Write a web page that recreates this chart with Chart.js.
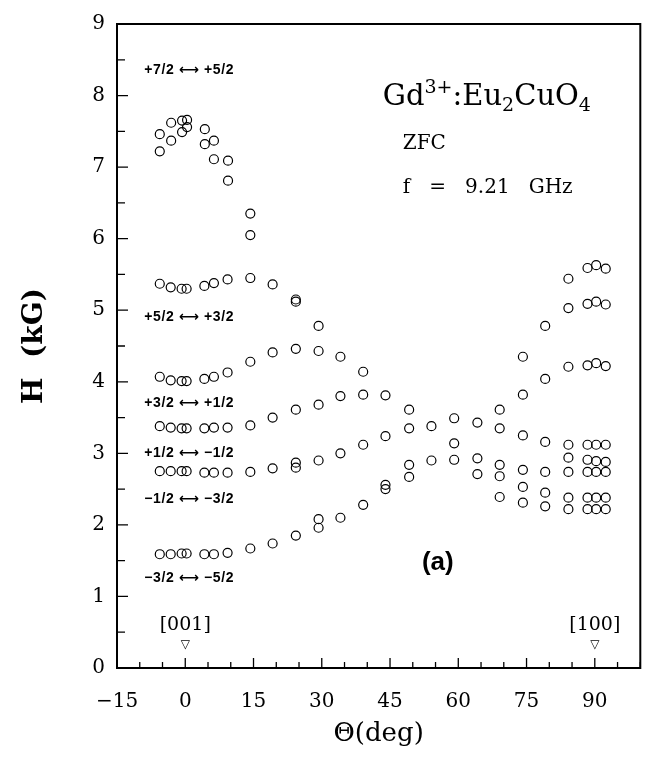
<!DOCTYPE html>
<html>
<head>
<meta charset="utf-8">
<script src="https://cdn.jsdelivr.net/npm/chart.js@4.4.1/dist/chart.umd.min.js"></script>
<style>
  html, body { margin: 0; padding: 0; background: #fff; }
  #wrap { width: 646px; height: 768px; }
</style>
</head>
<body>
<div id="wrap"><canvas id="eprChart" width="646" height="768"></canvas></div>
<script>
// angles (deg) and resonance fields (kG), one pair of arrays per transition
const ang72 = [-5.6, -5.6, -3.1, -3.1, -0.7, -0.7, 0.4, 0.4, 4.3, 4.3, 6.3, 6.3, 9.4, 9.4, 14.3, 14.3, 24.3, 24.3, 29.3, 79.1, 84.2, 88.4, 90.3, 92.4];
const h72   = [7.46, 7.22, 7.62, 7.37, 7.65, 7.49, 7.66, 7.56, 7.53, 7.32, 7.37, 7.11, 7.09, 6.81, 6.35, 6.05, 5.15, 5.12, 4.78, 4.78, 5.44, 5.59, 5.63, 5.58];

const ang52 = [-5.6, -3.2, -0.8, 0.3, 4.2, 6.3, 9.3, 14.3, 19.2, 29.3, 34.1, 39.1, 44.0, 49.2, 54.1, 59.1, 64.2, 69.1, 74.2, 79.1, 84.2, 88.4, 90.3, 92.4];
const h52   = [5.37, 5.32, 5.30, 5.30, 5.34, 5.38, 5.43, 5.45, 5.36, 4.43, 4.35, 4.14, 3.81, 3.61, 3.38, 3.49, 3.43, 3.61, 4.35, 4.04, 5.03, 5.09, 5.12, 5.08];

const ang32 = [-5.6, -3.2, -0.8, 0.3, 4.2, 6.3, 9.3, 14.3, 19.2, 24.3, 29.3, 34.1, 39.1, 44.0, 49.2, 59.1, 64.2, 69.1, 74.2, 84.2, 88.4, 90.3, 92.4];
const h32   = [4.07, 4.02, 4.01, 4.01, 4.04, 4.07, 4.13, 4.28, 4.41, 4.46, 3.68, 3.80, 3.82, 3.24, 3.35, 3.14, 2.93, 3.35, 3.82, 4.21, 4.23, 4.26, 4.22];

const ang12 = [-5.6, -3.2, -0.8, 0.3, 4.2, 6.3, 9.3, 14.3, 19.2, 24.3, 29.3, 34.1, 39.1, 44.0, 49.2, 54.1, 59.1, 64.2, 69.1, 74.2, 79.1, 84.2, 88.4, 90.3, 92.4];
const h12   = [3.38, 3.36, 3.35, 3.35, 3.35, 3.36, 3.36, 3.39, 3.50, 3.61, 2.90, 3.00, 3.12, 2.56, 2.84, 2.90, 2.91, 2.71, 2.84, 3.25, 3.16, 3.12, 3.12, 3.12, 3.12];

const angM12 = [-5.6, -3.2, -0.8, 0.3, 4.2, 6.3, 9.3, 14.3, 19.2, 24.3, 24.3, 29.3, 34.1, 39.1, 44.0, 49.2, 69.1, 74.2, 79.1, 84.2, 84.2, 88.4, 88.4, 90.3, 90.3, 92.4, 92.4];
const hM12   = [2.75, 2.75, 2.75, 2.75, 2.73, 2.73, 2.73, 2.74, 2.79, 2.87, 2.80, 2.08, 2.10, 2.28, 2.50, 2.67, 2.68, 2.77, 2.74, 2.94, 2.74, 2.91, 2.74, 2.89, 2.74, 2.88, 2.74];

const angM32 = [-5.6, -3.2, -0.8, 0.3, 4.2, 6.3, 9.3, 14.3, 19.2, 24.3, 29.3, 69.1, 74.2, 74.2, 79.1, 79.1, 84.2, 84.2, 88.4, 88.4, 90.3, 90.3, 92.4, 92.4];
const hM32   = [1.59, 1.59, 1.60, 1.60, 1.59, 1.59, 1.61, 1.67, 1.74, 1.85, 1.96, 2.39, 2.53, 2.31, 2.45, 2.26, 2.38, 2.22, 2.38, 2.22, 2.38, 2.22, 2.38, 2.22];

const transitionLabels = ['+7/2 \u27F7 +5/2', '+5/2 \u27F7 +3/2', '+3/2 \u27F7 +1/2', '+1/2 \u27F7 \u22121/2', '\u22121/2 \u27F7 \u22123/2', '\u22123/2 \u27F7 \u22125/2'];
const transitionLabelH = [8.35, 4.90, 3.70, 3.00, 2.36, 1.25];

const xTicks = [-15, 0, 15, 30, 45, 60, 75, 90];
const yTicks = [0, 1, 2, 3, 4, 5, 6, 7, 8, 9];

const serif = "'DejaVu Serif', 'Liberation Serif', serif";

function branch(label, xs, ys) {
  return {
    label: label,
    data: xs.map((x, i) => ({ x: x, y: ys[i] })),
    pointStyle: 'circle',
    pointRadius: 4.5,
    pointBorderWidth: 1.2,
    borderColor: '#000',
    backgroundColor: 'rgba(0,0,0,0)',
    showLine: false
  };
}

// frame, inward ticks and text annotations
const decorations = {
  id: 'decorations',
  afterDraw(chart) {
    const { ctx, chartArea: a, scales: { x, y } } = chart;
    ctx.save();
    ctx.strokeStyle = '#000';
    ctx.lineWidth = 2;
    ctx.strokeRect(a.left, a.top, a.right - a.left, a.bottom - a.top);

    ctx.lineWidth = 1.3;
    ctx.beginPath();
    for (let v = -15; v <= 100; v += 5) {
      const px = x.getPixelForValue(v);
      const len = v % 15 === 0 ? 10 : 6;
      ctx.moveTo(px, a.bottom);
      ctx.lineTo(px, a.bottom - len);
    }
    for (let v = 0; v <= 9; v += 0.5) {
      const py = y.getPixelForValue(v);
      const len = Number.isInteger(v) ? 11 : 8;
      ctx.moveTo(a.left, py);
      ctx.lineTo(a.left + len, py);
    }
    ctx.stroke();

    ctx.fillStyle = '#000';
    ctx.textBaseline = 'middle';
    ctx.textAlign = 'left';
    ctx.font = "bold 14px 'Liberation Sans', 'DejaVu Sans', sans-serif";
    ctx.letterSpacing = '0.6px';
    transitionLabels.forEach((t, i) => {
      ctx.fillText(t, x.getPixelForValue(-9), y.getPixelForValue(transitionLabelH[i]));
    });
    ctx.letterSpacing = '0px';

    // Gd3+:Eu2CuO4 with super/subscripts
    ctx.textBaseline = 'alphabetic';
    let px = x.getPixelForValue(43.4);
    const base = y.getPixelForValue(7.87);
    const parts = [['Gd', 0, 29], ['3+', -12, 19], [':Eu', 0, 29], ['2', 6, 19], ['CuO', 0, 29], ['4', 6, 19]];
    parts.forEach(([s, dy, size]) => {
      ctx.font = size + 'px ' + serif;
      ctx.fillText(s, px, base + dy);
      px += ctx.measureText(s).width;
    });

    ctx.font = '20px ' + serif;
    ctx.fillText('ZFC', x.getPixelForValue(47.8), y.getPixelForValue(7.26));
    ctx.fillText('f   =   9.21   GHz', x.getPixelForValue(47.8), y.getPixelForValue(6.64));

    ctx.textAlign = 'center';
    ctx.textBaseline = 'middle';
    ctx.font = "bold 26px 'Liberation Sans', 'DejaVu Sans', sans-serif";
    ctx.fillText('(a)', x.getPixelForValue(55.5), y.getPixelForValue(1.47));

    ctx.font = '19px ' + serif;
    ctx.fillText('[001]', x.getPixelForValue(0), y.getPixelForValue(0.60));
    ctx.fillText('[100]', x.getPixelForValue(90), y.getPixelForValue(0.60));
    ctx.font = "12px 'DejaVu Sans', sans-serif";
    ctx.fillText('\u25BD', x.getPixelForValue(0), y.getPixelForValue(0.32));
    ctx.fillText('\u25BD', x.getPixelForValue(90), y.getPixelForValue(0.32));
    ctx.restore();
  }
};

const ctx = document.getElementById('eprChart').getContext('2d');
new Chart(ctx, {
  type: 'scatter',
  data: {
    datasets: [
      branch('+7/2 \u2194 +5/2', ang72, h72),
      branch('+5/2 \u2194 +3/2', ang52, h52),
      branch('+3/2 \u2194 +1/2', ang32, h32),
      branch('+1/2 \u2194 -1/2', ang12, h12),
      branch('-1/2 \u2194 -3/2', angM12, hM12),
      branch('-3/2 \u2194 -5/2', angM32, hM32)
    ]
  },
  options: {
    responsive: false,
    animation: false,
    layout: { padding: { top: 20, right: 1, left: 0, bottom: 0 } },
    plugins: { legend: { display: false }, tooltip: { enabled: false } },
    scales: {
      x: {
        type: 'linear',
        min: -15,
        max: 100,
        afterBuildTicks: (s) => { s.ticks = xTicks.map(v => ({ value: v })); },
        afterFit: (s) => { s.height = 100; },
        grid: { display: false, drawTicks: false },
        border: { display: false },
        ticks: {
          padding: 22,
          color: '#000',
          font: { family: serif, size: 20 },
          callback: (v) => String(v).replace('-', '\u2212')
        },
        title: {
          display: true,
          text: '\u0398(deg)',
          color: '#000',
          font: { family: serif, size: 26 },
          padding: { top: 0, bottom: 18 }
        }
      },
      y: {
        type: 'linear',
        min: 0,
        max: 9,
        afterBuildTicks: (s) => { s.ticks = yTicks.map(v => ({ value: v })); },
        afterFit: (s) => { s.width = 117; },
        grid: { display: false, drawTicks: false },
        border: { display: false },
        ticks: {
          padding: 12,
          color: '#000',
          font: { family: serif, size: 20 }
        },
        title: {
          display: true,
          text: 'H  (kG)',
          color: '#000',
          font: { family: serif, size: 28, weight: '600' },
          padding: { top: 18, bottom: 0 }
        }
      }
    }
  },
  plugins: [decorations]
});
</script>
</body>
</html>
